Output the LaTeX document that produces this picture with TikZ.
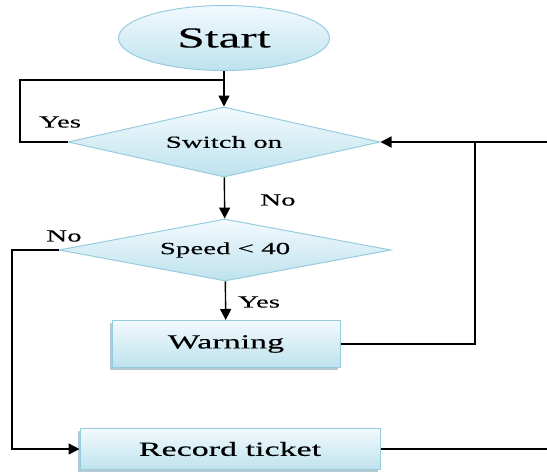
\documentclass[tikz,border=0pt]{standalone}
\usepackage{fontspec}
\setmainfont{Liberation Serif}[FakeStretch=1.7, FakeBold=0.3]
\usetikzlibrary{shapes.geometric, arrows.meta, shadows}

\definecolor{boxtop}{RGB}{242,250,253}
\definecolor{boxbot}{RGB}{190,226,238}
\definecolor{boxline}{RGB}{150,204,222}
\definecolor{boxshade}{RGB}{150,180,195}

\tikzset{
    flowbox/.style={draw=boxline, line width=1pt, top color=boxtop, bottom color=boxbot, inner sep=0pt},
    termbox/.style={flowbox, ellipse},
    decbox/.style={flowbox, diamond},
    procbox/.style={flowbox, rectangle, drop shadow={shadow xshift=-2.5pt, shadow yshift=-2.5pt, fill=boxshade, opacity=0.7}},
    flowline/.style={line width=1.4pt, black},
    flowarr/.style={flowline, -{Triangle[length=11pt,width=11pt]}},
    lbl/.style={inner sep=0.75pt, font=\fontsize{17}{19}\selectfont}
}

\begin{document}
\begin{tikzpicture}[x=1pt,y=1pt,yscale=-1,xscale=1]
        \useasboundingbox (0,0) rectangle (547,472);

        %Shape: Ellipse [id:start]
        \node [termbox, minimum width=211, minimum height=65, font=\fontsize{29}{32}\selectfont] (start) at (224,38) {Start};
        %Shape: Diamond [id:switch]
        \node [decbox, shape aspect=4.46, minimum width=312, minimum height=70, font=\fontsize{17}{19}\selectfont] (switch) at (224,142) {Switch on};
        %Shape: Diamond [id:speed]
        \node [decbox, shape aspect=5.35, minimum width=332, minimum height=62, font=\fontsize{17}{19}\selectfont] (speed) at (225,250) {Speed < 40};
        %Shape: Rectangle [id:warning]
        \node [procbox, minimum width=228, minimum height=47, font=\fontsize{20}{22}\selectfont] (warning) at (226,344) {Warning};
        %Shape: Rectangle [id:ticket]
        \node [procbox, minimum width=300, minimum height=41, font=\fontsize{20}{22}\selectfont] (ticket) at (230,449) {Record ticket};

        \coordinate (yesL) at (20,142);
        \coordinate (yesT) at (224,80);
        \coordinate (noL) at (12,250);
        \coordinate (backR) at (475,142);
        \coordinate (edgeR) at (547,142);
        \coordinate (edgeT) at (547,449);

        %Straight Lines
        \draw [flowarr] (start) -- (switch);
        \draw [flowline] (switch.west) -- (yesL) |- (yesT);
        \draw [flowarr] (switch) -- (speed);
        \draw [flowarr] (speed) -- (warning);
        \draw [flowarr] (speed.west) -- (noL) |- (ticket.west);
        \draw [flowarr] (warning.east) -| (backR) -- (switch.east);
        \draw [flowline] (backR) -- (edgeR);
        \draw [flowline] (ticket.east) -- (edgeT);

        % Text Node
        \node [lbl] (yes1) at (60,122) {Yes};
        % Text Node
        \node [lbl] (no1) at (278,200) {No};
        % Text Node
        \node [lbl] (no2) at (64,236) {No};
        % Text Node
        \node [lbl] (yes2) at (259,302) {Yes};

\end{tikzpicture}
\end{document}
